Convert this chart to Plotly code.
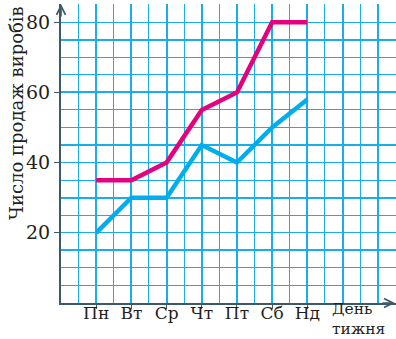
import plotly.graph_objects as go

days = ['Пн', 'Вт', 'Ср', 'Чт', 'Пт', 'Сб', 'Нд']
day_pos = [1, 2, 3, 4, 5, 6, 7]
sales_red = [35, 35, 40, 55, 60, 80, 80]
sales_blue = [20, 30, 30, 45, 40, 50, 58]
y_ticks = [20, 40, 60, 80]
thick_y = [15, 30, 45, 60, 75]
thick_x = [1, 2, 3, 4, 5, 6, 7, 8, 9]

axis_col = '#3d5866'
grid_col = '#17aeea'
font = 'DejaVu Serif'
x_range = [0, 9.52]
y_range = [0, 85.2]

fig = go.Figure()

fig.add_trace(go.Scatter(
    x=day_pos, y=sales_red, mode='lines',
    line=dict(color='#e5007d', width=4.5),
    showlegend=False, hoverinfo='skip'
))
fig.add_trace(go.Scatter(
    x=day_pos, y=sales_blue, mode='lines',
    line=dict(color='#00aeef', width=4.5),
    showlegend=False, hoverinfo='skip'
))
# empty trace so the overlay axes (thicker grid lines) exist
fig.add_trace(go.Scatter(
    x=[], y=[], xaxis='x2', yaxis='y2',
    showlegend=False, hoverinfo='skip'
))

fig.update_layout(
    width=396, height=339,
    margin=dict(l=61, r=0, t=4, b=36),
    plot_bgcolor='white', paper_bgcolor='white',
    font=dict(family=font, color='#231f20'),
    xaxis=dict(
        range=x_range, tickvals=day_pos, ticktext=days,
        tickfont=dict(size=17), ticklabelstandoff=-10,
        showgrid=True, gridcolor=grid_col, gridwidth=1.3,
        minor=dict(dtick=0.5, tick0=0, showgrid=True,
                   gridcolor=grid_col, gridwidth=1.3),
        showline=True, linecolor=axis_col, linewidth=2,
        ticks='outside', ticklen=4, tickwidth=1.3, tickcolor=axis_col,
        zeroline=False, fixedrange=True
    ),
    yaxis=dict(
        range=y_range, tickvals=y_ticks,
        tickfont=dict(size=19),
        showgrid=True, gridcolor=grid_col, gridwidth=1.3,
        minor=dict(dtick=5, tick0=0, showgrid=True,
                   gridcolor=grid_col, gridwidth=1.3),
        showline=True, linecolor=axis_col, linewidth=2,
        ticks='outside', ticklen=5, tickwidth=1.3, tickcolor=axis_col,
        zeroline=False, fixedrange=True
    ),
    xaxis2=dict(
        overlaying='x', anchor='y2', range=x_range, tickvals=thick_x,
        showticklabels=False, ticks='', showline=False, zeroline=False,
        showgrid=True, gridcolor=grid_col, gridwidth=2.2
    ),
    yaxis2=dict(
        overlaying='y', anchor='x2', range=y_range, tickvals=thick_y,
        showticklabels=False, ticks='', showline=False, zeroline=False,
        showgrid=True, gridcolor=grid_col, gridwidth=2.4
    ),
)

# axis arrows
fig.add_annotation(x=0, y=y_range[1], ax=0, ay=14, text='',
                   showarrow=True, arrowhead=5, arrowsize=1.1,
                   arrowwidth=1.6, arrowcolor=axis_col)
fig.add_annotation(x=x_range[1] - 0.03, y=0, ax=-14, ay=0, text='',
                   showarrow=True, arrowhead=5, arrowsize=1.1,
                   arrowwidth=1.6, arrowcolor=axis_col)

# axis titles
fig.add_annotation(text='Число продаж виробів', textangle=-90,
                   xref='paper', yref='paper', x=-0.135, y=0.635,
                   xanchor='center', yanchor='middle', showarrow=False,
                   font=dict(size=18))
fig.add_annotation(text='День<br>тижня', xref='x', yref='paper',
                   x=7.64, y=0.018, xanchor='left', yanchor='top',
                   align='left', showarrow=False, font=dict(size=15.5))

fig.write_html("out.html",
               config={'displayModeBar': False},
               post_script="document.body.style.margin='0';"
                           "document.body.style.overflow='hidden';")
